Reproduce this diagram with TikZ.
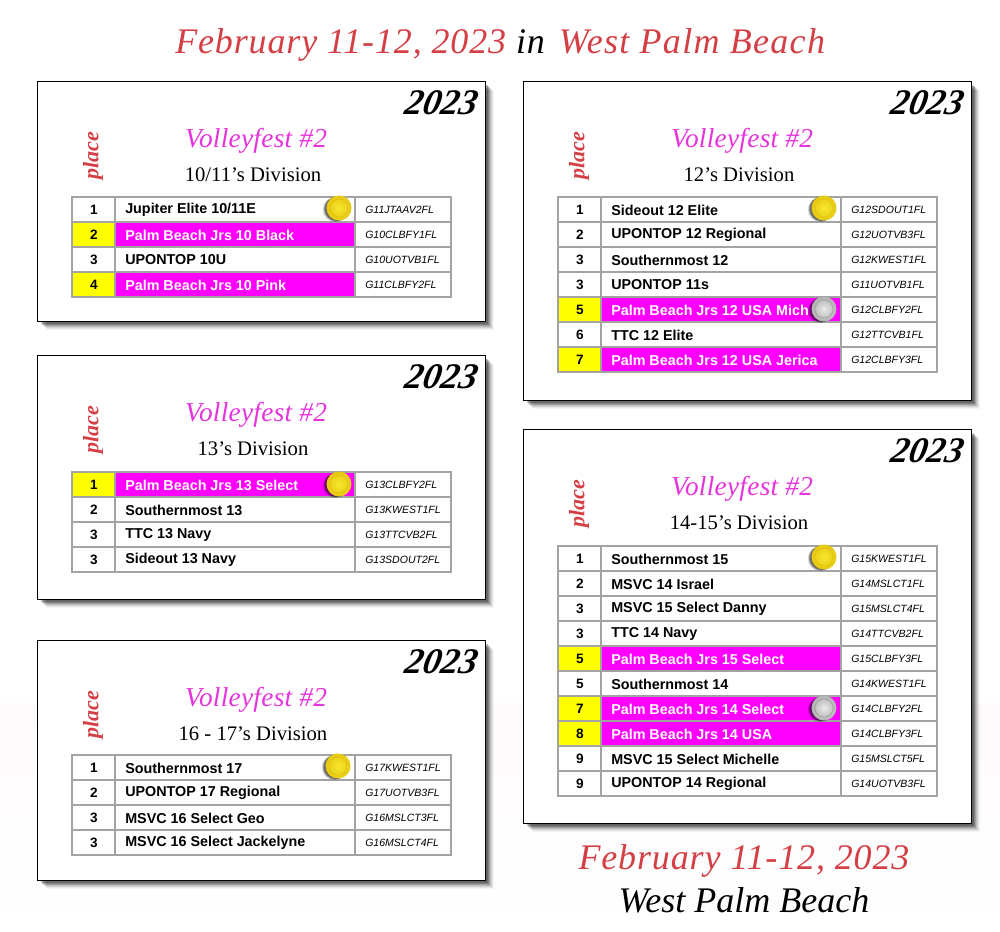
\documentclass[tikz,border=0pt]{standalone}
\usepackage{fontspec}
\setmainfont{Liberation Serif}
\setsansfont{Liberation Sans}
\newfontfamily\spacedserif[LetterSpace=2.4]{Liberation Serif}
\newfontfamily\widerserif[LetterSpace=3.6]{Liberation Serif}
\newfontfamily\volleyserif[LetterSpace=1]{Liberation Serif}
\definecolor{titlered}{HTML}{D43F45}
\definecolor{volley}{HTML}{E633DC}
\definecolor{hotpink}{HTML}{FF00FF}
\definecolor{gridgray}{HTML}{A3A3A3}
\definecolor{rowyellow}{HTML}{FFFF00}
\definecolor{pagepink}{HTML}{FDFAFB}
\definecolor{goldin}{HTML}{F8E830}
\definecolor{goldout}{HTML}{E6C80E}
\definecolor{goldring}{HTML}{DDBE10}
\definecolor{silverin}{HTML}{EAEAEA}
\definecolor{silverout}{HTML}{B0B0B0}
\definecolor{silverring}{HTML}{999999}
\tikzset{
  x=0.75pt,y=-0.75pt,
  bigtitle/.style={font=\spacedserif\fontsize{27}{30}\selectfont\itshape,inner sep=0pt},
  placetitle/.style={font=\fontsize{27}{30}\selectfont\itshape,inner sep=0pt},
  yeartext/.style={font=\fontsize{27}{28}\selectfont\bfseries\itshape,anchor=east,inner sep=0pt,xslant=0.2},
  volleytext/.style={font=\volleyserif\fontsize{20.5}{24}\selectfont\itshape,text=volley,inner sep=0pt},
  divtext/.style={font=\fontsize{15.5}{18}\selectfont,inner sep=0pt},
  placetext/.style={font=\fontsize{16.5}{18}\selectfont\bfseries\itshape,text=titlered,rotate=90,inner sep=0pt},
  placenum/.style={font=\sffamily\bfseries\fontsize{10.2}{12}\selectfont,inner sep=0pt},
  teamname/.style={font=\sffamily\bfseries\fontsize{10.75}{12}\selectfont,anchor=west,inner sep=0pt},
  codetext/.style={font=\sffamily\itshape\fontsize{7.9}{10}\selectfont,anchor=west,inner sep=0pt},
  gridline/.style={draw=gridgray,line width=1.5pt},
}
\newcount\rowid
\newcommand{\shadowbox}[4]{% x0 y0 x1 y1
  \foreach \o/\a in {9/0.04,8/0.06,7/0.08,6/0.11,5/0.14,4/0.18,3/0.22}{
    \fill[black,opacity=\a] ({#1+\o},{#2+\o}) rectangle ({#3+\o-1},{#4+\o-1});
  }
  \draw[black,fill=white,line width=0.75pt] ({#1-0.5},{#2-0.5}) rectangle ({#3-0.5},{#4-0.5});
}
\newcommand{\cardhead}[4]{% x0 y0 x1 division
  \node[yeartext] (year-#1-#2) at ({#3-8},{#2+21}) {2023};
  \node[volleytext] (volley-#1-#2) at ({#1+218},{#2+59}) {Volleyfest \#2};
  \node[divtext] (div-#1-#2) at ({#1+215},{#2+93}) {#4};
  \node[placetext] (place-#1-#2) at ({#1+55},{#2+74}) {place};
}
\newcommand{\plainrow}[6]{%
  \global\advance\rowid by 1
  \pgfmathsetmacro{\ry}{#2+25*#3}
  \draw[gridline,fill=white] (#1,\ry) rectangle ({#1+43},{\ry+25});
  \draw[gridline,fill=white] ({#1+43},\ry) rectangle ({#1+283},{\ry+25});
  \draw[gridline,fill=white] ({#1+283},\ry) rectangle ({#1+379},{\ry+25});
  \node[placenum] (n\the\rowid) at ({#1+22},{\ry+12.5}) {#4};
  \node[teamname] (t\the\rowid) at ({#1+53},{\ry+13}) {#5};
  \node[codetext] (c\the\rowid) at ({#1+293},{\ry+12.5}) {#6};
}
\newcommand{\pinkrow}[6]{%
  \global\advance\rowid by 1
  \pgfmathsetmacro{\ry}{#2+25*#3}
  \draw[gridline,fill=rowyellow] (#1,\ry) rectangle ({#1+43},{\ry+25});
  \draw[gridline,fill=hotpink] ({#1+43},\ry) rectangle ({#1+283},{\ry+25});
  \draw[gridline,fill=white] ({#1+283},\ry) rectangle ({#1+379},{\ry+25});
  \node[placenum] (n\the\rowid) at ({#1+22},{\ry+12.5}) {#4};
  \node[teamname,text=white] (t\the\rowid) at ({#1+53},{\ry+13}) {#5};
  \node[codetext] (c\the\rowid) at ({#1+293},{\ry+12.5}) {#6};
}
\newcommand{\medal}[5]{% cx cy inner outer ring
  \foreach \o/\a in {4/0.15,3/0.25,2/0.35}{
    \fill[black,opacity=\a] ({#1-\o},{#2+\o*0.4}) circle[radius=9.2pt];
  }
  \shade[inner color=#3,outer color=#4] (#1,#2) circle[radius=9.4pt];
  \draw[#5,line width=0.4pt] (#1,#2) circle[radius=6.8pt];
}
\newcommand{\goldmedal}[2]{\medal{#1}{#2}{goldin}{goldout}{goldring}}
\newcommand{\silvermedal}[2]{\medal{#1}{#2}{silverin}{silverout}{silverring}}
\begin{document}
\begin{tikzpicture}
\useasboundingbox (0,0) rectangle (1000,932);
\fill[white] (0,0) rectangle (1000,932);
\shade[top color=pagepink,bottom color=white] (0,703) rectangle (1000,932);

\node[bigtitle,anchor=west] (toptitle) at (175,44.5) {\textcolor{titlered}{February 11-12, 2023} \textcolor{black}{in}\hspace{3pt} \textcolor{titlered}{\widerserif\itshape West Palm Beach}};

% Card A
\shadowbox{38}{82}{486}{322}
\cardhead{38}{82}{486}{10/11’s Division}
\plainrow{72}{197}{0}{1}{Jupiter Elite 10/11E}{G11JTAAV2FL}
\pinkrow{72}{197}{1}{2}{Palm Beach Jrs 10 Black}{G10CLBFY1FL}
\plainrow{72}{197}{2}{3}{UPONTOP 10U}{G10UOTVB1FL}
\pinkrow{72}{197}{3}{4}{Palm Beach Jrs 10 Pink}{G11CLBFY2FL}
\goldmedal{339}{208}

% Card B
\shadowbox{38}{356}{486}{600}
\cardhead{38}{356}{486}{13’s Division}
\pinkrow{72}{472}{0}{1}{Palm Beach Jrs 13 Select}{G13CLBFY2FL}
\plainrow{72}{472}{1}{2}{Southernmost 13}{G13KWEST1FL}
\plainrow{72}{472}{2}{3}{TTC 13 Navy}{G13TTCVB2FL}
\plainrow{72}{472}{3}{3}{Sideout 13 Navy}{G13SDOUT2FL}
\goldmedal{339}{484}

% Card C
\shadowbox{38}{641}{486}{881}
\cardhead{38}{641}{486}{16 - 17’s Division}
\plainrow{72}{755}{0}{1}{Southernmost 17}{G17KWEST1FL}
\plainrow{72}{755}{1}{2}{UPONTOP 17 Regional}{G17UOTVB3FL}
\plainrow{72}{755}{2}{3}{MSVC 16 Select Geo}{G16MSLCT3FL}
\plainrow{72}{755}{3}{3}{MSVC 16 Select Jackelyne}{G16MSLCT4FL}
\goldmedal{338}{766}

% Card D
\shadowbox{524}{82}{972}{401}
\cardhead{524}{82}{972}{12’s Division}
\plainrow{558}{197}{0}{1}{Sideout 12 Elite}{G12SDOUT1FL}
\plainrow{558}{197}{1}{2}{UPONTOP 12 Regional}{G12UOTVB3FL}
\plainrow{558}{197}{2}{3}{Southernmost 12}{G12KWEST1FL}
\plainrow{558}{197}{3}{3}{UPONTOP 11s}{G11UOTVB1FL}
\pinkrow{558}{197}{4}{5}{Palm Beach Jrs 12 USA Mich}{G12CLBFY2FL}
\plainrow{558}{197}{5}{6}{TTC 12 Elite}{G12TTCVB1FL}
\pinkrow{558}{197}{6}{7}{Palm Beach Jrs 12 USA Jerica}{G12CLBFY3FL}
\goldmedal{824}{208}
\silvermedal{824}{309}

% Card E
\shadowbox{524}{430}{972}{824}
\cardhead{524}{430}{972}{14-15’s Division}
\plainrow{558}{546}{0}{1}{Southernmost 15}{G15KWEST1FL}
\plainrow{558}{546}{1}{2}{MSVC 14 Israel}{G14MSLCT1FL}
\plainrow{558}{546}{2}{3}{MSVC 15 Select Danny}{G15MSLCT4FL}
\plainrow{558}{546}{3}{3}{TTC 14 Navy}{G14TTCVB2FL}
\pinkrow{558}{546}{4}{5}{Palm Beach Jrs 15 Select}{G15CLBFY3FL}
\plainrow{558}{546}{5}{5}{Southernmost 14}{G14KWEST1FL}
\pinkrow{558}{546}{6}{7}{Palm Beach Jrs 14 Select}{G14CLBFY2FL}
\pinkrow{558}{546}{7}{8}{Palm Beach Jrs 14 USA}{G14CLBFY3FL}
\plainrow{558}{546}{8}{9}{MSVC 15 Select Michelle}{G15MSLCT5FL}
\plainrow{558}{546}{9}{9}{UPONTOP 14 Regional}{G14UOTVB3FL}
\goldmedal{824}{557}
\silvermedal{824}{708}

\node[bigtitle,text=titlered] (bottomdate) at (744,861) {February 11-12, 2023};
\node[placetitle,text=black] (bottomplace) at (744,900) {West Palm Beach};
\end{tikzpicture}
\end{document}
